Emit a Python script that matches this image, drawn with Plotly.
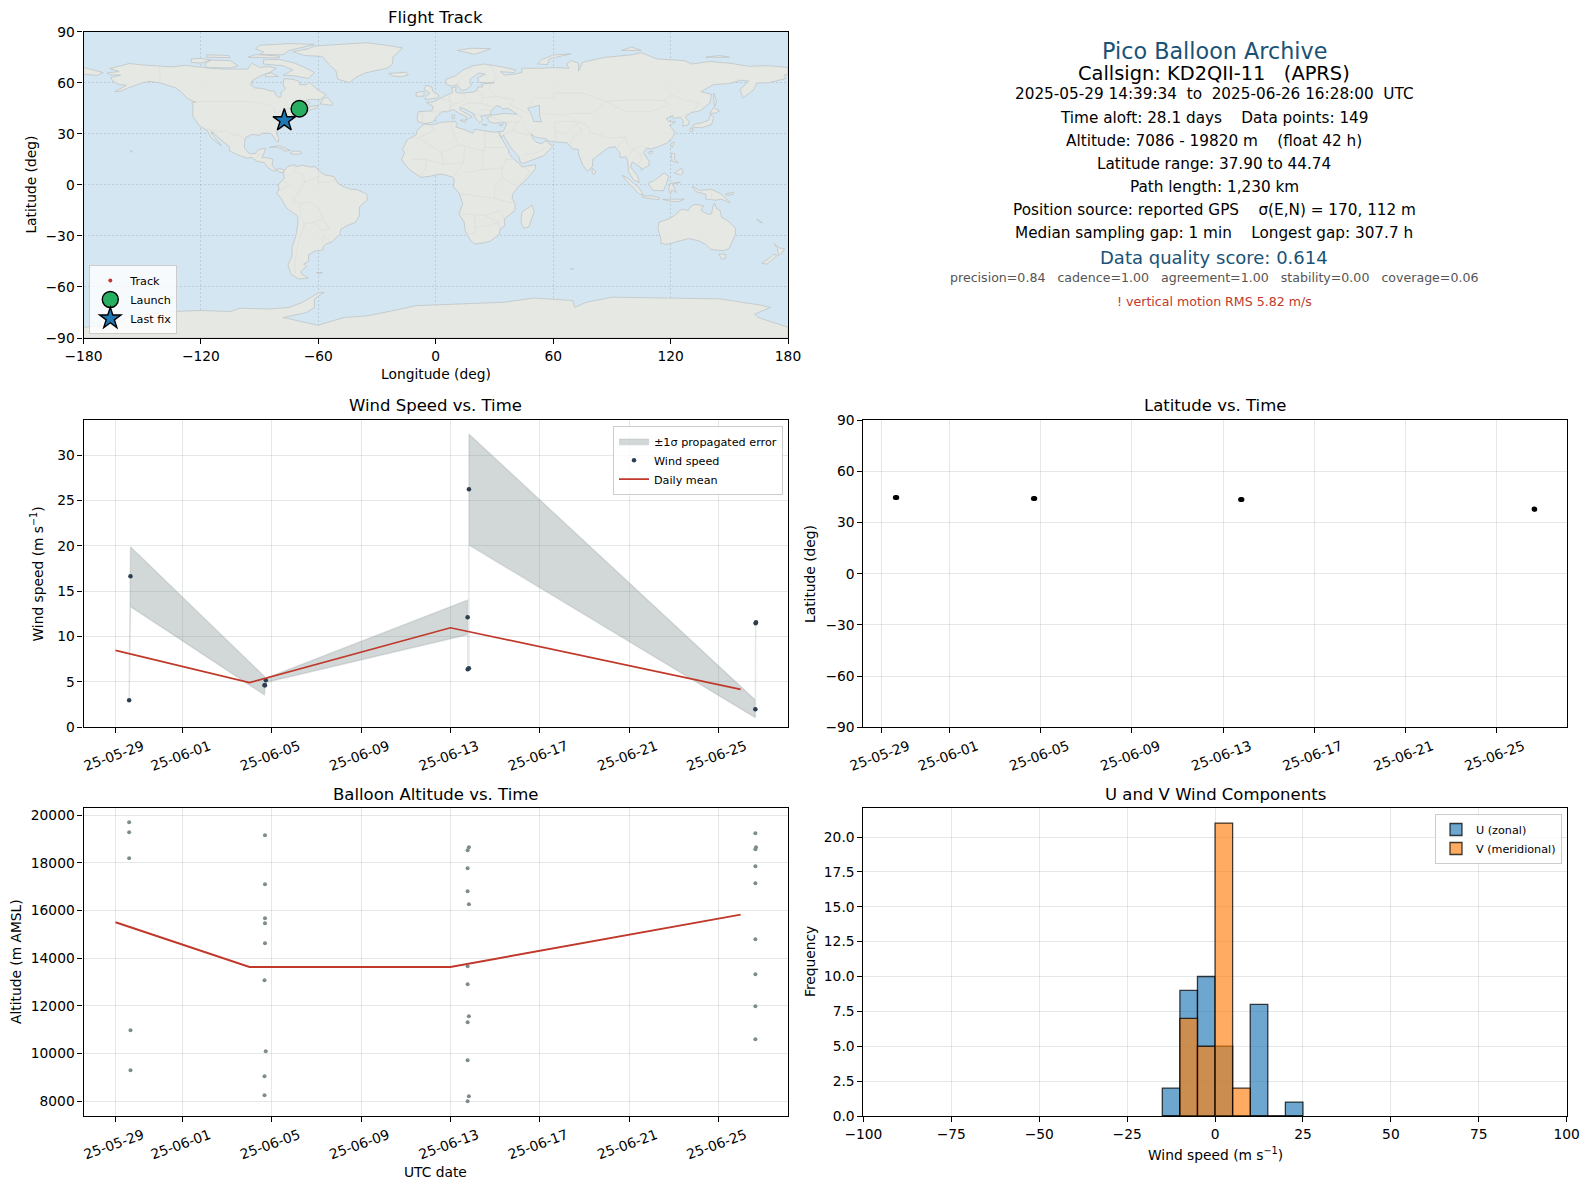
# flight summary figure for one pico balloon
import plotly.graph_objects as go

# page body keeps its default 8 px margin
W, H = 1573, 1173
OFF = 8

# wind speed samples, with +/- 1 sigma limits
wind_times = ["2025-05-29 14:39", "2025-05-29 16:05", "2025-06-04 16:10", "2025-06-04 16:40",
              "2025-06-04 17:30", "2025-06-13 18:30", "2025-06-13 18:35", "2025-06-13 19:50",
              "2025-06-13 19:55", "2025-06-26 15:50", "2025-06-26 16:05", "2025-06-26 16:28"]
wind_speed = [2.98, 16.65, 4.63, 4.63, 5.18, 12.13, 6.4, 6.5, 26.25, 1.98, 11.47, 11.58]
wind_hi = [3.15, 19.92, 5.6, 4.85, 5.4, 14.03, 6.6, 6.7, 32.35, 3.0, 11.6, 11.7]
wind_lo = [2.8, 13.3, 3.56, 4.4, 4.95, 10.2, 6.2, 6.3, 20.1, 1.06, 11.35, 11.45]

daily_days = ["2025-05-29", "2025-06-04", "2025-06-13", "2025-06-26"]
daily_wind = [8.49, 4.92, 10.98, 4.19]
daily_alt = [15510, 13636, 13636, 15832]

# altitude samples
alt_times = ["2025-05-29 14:39", "2025-05-29 14:39", "2025-05-29 14:39", "2025-05-29 16:05", "2025-05-29 16:05",
             "2025-06-04 16:40", "2025-06-04 16:40", "2025-06-04 16:40", "2025-06-04 16:40", "2025-06-04 16:40",
             "2025-06-04 16:10", "2025-06-04 17:30", "2025-06-04 16:10", "2025-06-04 16:10",
             "2025-06-13 19:50", "2025-06-13 18:30", "2025-06-13 18:30", "2025-06-13 18:30", "2025-06-13 19:50",
             "2025-06-13 18:30", "2025-06-13 18:30", "2025-06-13 19:50", "2025-06-13 18:30", "2025-06-13 18:30",
             "2025-06-13 19:50", "2025-06-13 18:30",
             "2025-06-26 15:50", "2025-06-26 16:28", "2025-06-26 15:50", "2025-06-26 15:50", "2025-06-26 15:50",
             "2025-06-26 15:50", "2025-06-26 15:50", "2025-06-26 15:50", "2025-06-26 15:50"]
alt_m = [19706, 19287, 18196, 10979, 9301,
         19161, 17105, 15678, 15469, 14629, 13077, 10098, 9049, 8252,
         18657, 18531, 17776, 16811, 16266, 13664, 12909, 11566, 11315, 9720, 8210, 8000,
         19245, 18657, 18573, 17860, 17147, 14797, 13329, 11986, 10601]

# latitude samples
lat_times = ["2025-05-29 14:39", "2025-05-29 16:05", "2025-06-04 16:10", "2025-06-04 17:30",
             "2025-06-13 18:30", "2025-06-13 19:50", "2025-06-26 15:50", "2025-06-26 16:28"]
lat_deg = [44.74, 44.7, 44.2, 44.15, 43.6, 43.5, 37.95, 37.9]

# track on the map
track_lon = [-69.7, -69.9, -70.3, -77.4]
track_lat = [44.74, 44.3, 43.5, 37.9]

# histogram of wind components, 5 m/s bins
bin_centers = [-12.5, -7.5, -2.5, 2.5, 7.5, 12.5, 17.5, 22.5]
u_counts = [2, 9, 10, 5, 0, 8, 0, 1]
v_counts = [0, 7, 5, 21, 2, 0, 0, 0]

date_ticks = ["2025-05-29", "2025-06-01", "2025-06-05", "2025-06-09",
              "2025-06-13", "2025-06-17", "2025-06-21", "2025-06-25"]
lon_ticks = [-180, -120, -60, 0, 60, 120, 180]
lat_ticks = [-90, -60, -30, 0, 30, 60, 90]
wind_ticks = [0, 5, 10, 15, 20, 25, 30]
alt_ticks = [8000, 10000, 12000, 14000, 16000, 18000, 20000]
hist_x_ticks = [-100, -75, -50, -25, 0, 25, 50, 75, 100]
hist_y_ticks = [0, 2.5, 5, 7.5, 10, 12.5, 15, 17.5, 20]

# rough coastlines (lon, lat)
north_america = [(-168, 65.7), (-162, 66.6), (-166.5, 68.4), (-160, 70.5), (-156.5, 71.3), (-150, 70.5), (-141, 69.7),
                 (-135, 69.3), (-128, 70.2), (-124, 69.6), (-115, 68.5), (-108, 68), (-100, 68), (-96, 68), (-94, 71.5),
                 (-90, 69), (-85, 69.5), (-81.5, 68.5), (-85, 66), (-87, 65), (-90, 63.8), (-94, 61), (-94.5, 58.8),
                 (-92.5, 57), (-88, 56.5), (-85, 55.3), (-82.3, 55.1), (-82, 53), (-80, 51.3), (-79, 52), (-79, 54.5),
                 (-76.8, 56.5), (-78, 58.8), (-77.5, 62.4), (-73, 62), (-70, 61), (-69.5, 58.8), (-66, 58.8), (-64.5, 60.3),
                 (-62, 57.5), (-60, 55.5), (-56, 53), (-59, 50.2), (-65, 50.2), (-68, 49), (-71, 46.8), (-65, 49),
                 (-64.5, 48), (-65, 47), (-64, 46), (-60, 46.8), (-61, 45.2), (-65.5, 43.5), (-66.3, 44.5), (-64.5, 45.5),
                 (-67, 45), (-70, 43.7), (-70.7, 42), (-74, 40.6), (-75.5, 38), (-76, 36.8), (-75.5, 35.2), (-78, 33.9),
                 (-81, 32), (-81.4, 30.5), (-80.2, 27), (-80.4, 25.2), (-81.7, 26), (-82.8, 28), (-84, 30), (-86, 30.4),
                 (-89, 30.3), (-90, 29.2), (-94, 29.6), (-97.2, 27.8), (-97.7, 25), (-97.8, 22), (-96, 19), (-94.5, 18.2),
                 (-92, 18.6), (-90.5, 20.8), (-87, 21.5), (-87.8, 18.5), (-88.8, 15.9), (-86, 15.9), (-83.3, 15),
                 (-83.6, 11.5), (-82, 9), (-79.5, 9.5), (-77.3, 8.6), (-77.9, 7.2), (-80, 7.3), (-80.5, 8.2), (-83, 8.2),
                 (-85.7, 10), (-87.6, 13), (-91.5, 14), (-94, 16.1), (-96.5, 15.7), (-101, 17.5), (-105.5, 20),
                 (-105.5, 22.5), (-109, 25.7), (-112.5, 29.5), (-114.7, 31.5), (-114.5, 30), (-111, 25), (-109.5, 23),
                 (-112, 25), (-115, 28), (-116.8, 32), (-120.5, 34.5), (-122.5, 37.5), (-124.3, 40.5), (-124, 46),
                 (-124.6, 48.4), (-122.5, 48.5), (-127, 50.8), (-130, 54.5), (-133, 57), (-137, 58.5), (-141, 60),
                 (-146, 60.8), (-150, 60), (-152, 59), (-156, 57.5), (-161, 55), (-164, 54.8), (-158, 58.5), (-162, 59),
                 (-165, 61), (-166, 63), (-161, 64.5), (-166, 64.6)]
chukotka_west = [(-180, 69), (-175, 67.5), (-170, 66), (-173, 64.3), (-180, 65)]
baffin = [(-62, 66), (-65, 62.5), (-72, 64), (-78, 64.5), (-73, 67.5), (-78, 70), (-88, 71), (-88, 73.5), (-80, 73.7), (-72, 71.5), (-67, 69)]
victoria = [(-117, 69), (-105, 68.7), (-101, 70), (-105, 73), (-115, 73.3), (-118, 71)]
ellesmere = [(-90, 76.5), (-78, 76.5), (-75, 79), (-65, 81.5), (-62, 82.5), (-75, 83), (-90, 82), (-92, 80), (-88, 78)]
banks = [(-125, 72), (-120, 71.5), (-115, 73.5), (-120, 74.3), (-125, 74)]
devon = [(-96, 75), (-80, 74.6), (-80, 75.7), (-92, 76.6)]
melville = [(-117, 75), (-105, 74.8), (-106, 76), (-117, 76.4)]
southampton = [(-87, 63.5), (-80.5, 63.7), (-84, 65.8), (-87, 65)]
newfoundland = [(-59, 47.6), (-53, 46.7), (-52.8, 48), (-55.5, 51.5), (-57.5, 50.5)]
greenland = [(-73, 78.3), (-67, 76), (-58, 75.5), (-54, 70), (-51, 67), (-50, 62), (-44, 60), (-41, 63), (-36, 65.8), (-25, 68.5),
             (-22, 71), (-22, 75), (-19, 78), (-17, 80.5), (-25, 82), (-35, 83.5), (-50, 82.5), (-62, 81.5), (-65, 80)]
iceland = [(-24, 65.5), (-22, 64), (-18, 63.4), (-14, 64.6), (-15, 66.2), (-20, 66)]
cuba = [(-85, 22), (-80, 23), (-74.2, 20.2), (-77.5, 19.9), (-78, 21), (-82, 22.3)]
hispaniola = [(-74.4, 18.5), (-73, 19.9), (-69, 19.7), (-68.4, 18.6), (-71.5, 17.8)]
hawaii = [(-156, 19.2), (-155, 19.7), (-155.7, 20.2)]
south_america = [(-77.3, 8.6), (-75.5, 10.8), (-72, 12), (-71.5, 10.8), (-68, 11.5), (-64, 10.5), (-61.5, 10.7), (-60, 8.5), (-57, 6),
                 (-52, 4.8), (-50, 1), (-48, -0.7), (-44, -2.5), (-40, -2.9), (-35.2, -5.5), (-35, -9), (-39, -13), (-39, -18),
                 (-41, -22), (-45, -23.8), (-48.5, -26), (-49, -29), (-53, -33.5), (-56.5, -35), (-57.5, -36.5), (-57.5, -38.2),
                 (-62, -39), (-65, -41), (-65, -45), (-67.5, -46.5), (-66, -48), (-69, -51), (-68.3, -52.5), (-65.2, -54.8),
                 (-70, -55.3), (-74, -52.5), (-75.5, -47), (-73.5, -42), (-73.5, -37), (-71.5, -30), (-70.5, -23), (-70.5, -18.3),
                 (-76, -14), (-79, -8), (-81.3, -5), (-80, -2.5), (-80.5, 0), (-78.5, 2.5), (-77.3, 4), (-77.9, 7.2)]
falklands = [(-61, -51.5), (-58, -51.5), (-59.5, -52.3)]
africa = [(-6, 35.8), (-2, 35.2), (3, 36.8), (10, 37.3), (11, 35.5), (10.2, 34), (15, 32.3), (19, 30.4), (20, 32.7), (25, 31.7),
          (29, 31), (32.3, 31.2), (32.5, 29.9), (34, 26.5), (37, 21), (37.5, 18.5), (39.5, 15.5), (43, 12), (44, 10.5), (51, 11.8),
          (51, 9.5), (47, 4), (42, -1.5), (39.5, -5), (39, -8), (40.5, -11), (40.5, -15), (35, -20), (35.3, -24), (32.8, -26),
          (32.5, -29), (28, -33), (25, -34), (20, -34.8), (18, -33), (15, -27), (14.5, -22), (11.8, -17), (13.8, -11), (12, -5),
          (9, -1), (9.5, 3.5), (8.5, 4.5), (5, 5.8), (2, 6.3), (-3, 5), (-7.5, 4.4), (-13, 8.5), (-15, 11), (-17.4, 14.7),
          (-16, 19), (-17, 21), (-14.5, 26.5), (-10, 29.5), (-9.5, 32)]
madagascar = [(44, -16), (49.2, -12), (50.3, -15.8), (47.5, -24.8), (45, -25.5), (43.5, -22)]
eurasia = [(-9, 37), (-9.5, 38.8), (-9, 43), (-2, 43.5), (-1.2, 46), (-4.7, 48.4), (-1.5, 48.7), (1.5, 50.5), (4, 52), (7, 53.5),
           (8.5, 54), (8.2, 57), (10.5, 57.5), (10, 54.8), (12, 54), (14.5, 54), (19, 54.5), (21, 55.5), (21.5, 57.5), (24, 57.5),
           (23.5, 59.2), (28, 59.6), (30, 60), (25, 60), (22, 60.3), (21.5, 63), (25.3, 65), (22, 65.8), (17.5, 62), (17.5, 59.8),
           (18.5, 59), (16, 56.2), (14, 55.4), (12.7, 56), (11, 59), (8, 58), (5.5, 59), (5, 62), (10, 64), (14, 67.5), (19, 70),
           (25, 71), (31, 70), (33, 69.5), (41, 67.5), (40, 66), (33, 66.5), (35, 64.5), (40, 65), (44, 66), (44, 68.5), (54, 68.5),
           (60, 69), (68, 68.5), (67, 71), (69, 73), (73, 71.5), (73, 67), (75, 72), (81, 73.5), (87, 75), (100, 76.4), (105, 77.7),
           (113, 74), (127, 73), (131, 71), (140, 72.5), (150, 71.5), (160, 69.7), (170, 70), (180, 69), (180, 65), (178, 64.5),
           (179, 62.5), (170, 60), (164, 59.8), (162.5, 56), (157, 51), (155.5, 56), (160, 61), (156, 61.5), (150, 59.5), (142, 59),
           (135.5, 54.8), (141, 53), (140, 48), (135, 43.5), (130.5, 42.5), (127.5, 39.8), (129.5, 37), (129, 35.2), (126.3, 34.5),
           (126.5, 37.5), (125, 39.6), (121.5, 39), (121, 40.8), (118, 39), (119, 37.2), (122.5, 37), (119.5, 35), (122, 31),
           (121.5, 28.5), (118, 24.5), (113.5, 22.3), (110, 21), (108, 21.6), (106, 19), (109, 14), (109, 11.5), (105, 8.7), (105, 10),
           (100.5, 13.5), (99.5, 10.5), (103, 5.5), (104, 1.4), (101, 3), (98.5, 8), (98, 14), (97, 16.5), (94.3, 16), (94, 19),
           (91.5, 22.5), (88, 21.7), (86, 20), (80.3, 15), (80, 10.5), (77.5, 8), (75, 12), (73, 18), (72.8, 21), (70, 21), (69, 22.5),
           (67, 24.8), (61.5, 25.2), (57, 25.8), (56.5, 27), (51, 28), (48.5, 30), (50, 26.7), (51.5, 25), (54, 24.2), (56.3, 26),
           (59.8, 22.5), (55, 17), (52, 15.8), (45, 12.8), (43.3, 13), (42.5, 16.5), (39, 21), (35, 28), (34.7, 29.5), (33.5, 28),
           (32.6, 30), (32.3, 31.2), (34.5, 31.5), (36, 35), (36, 36.7), (32, 36.2), (30, 36.3), (27.5, 37), (26.3, 39.5), (29, 41),
           (35, 42), (41.5, 41.5), (38, 44.5), (37, 45), (34, 44.5), (33, 46), (31, 46.5), (28, 43), (28.5, 41.5), (26, 40.7), (23, 40.5),
           (24, 38), (22.5, 36.5), (20, 39.7), (19.5, 41.8), (14, 45), (12.3, 45.4), (12.5, 44), (16, 41.7), (18.5, 40), (16.5, 39),
           (15.7, 38), (15.8, 40), (12, 42), (9, 44.3), (6, 43), (3, 43), (0, 39.5), (-0.5, 38), (-2, 36.8), (-5.5, 36)]
britain = [(-5.5, 50), (1.3, 51.2), (1.5, 52.8), (-1.5, 55), (-2, 57.5), (-5, 58.6), (-6, 56), (-3, 54), (-5, 52)]
ireland = [(-10, 52), (-6, 52.2), (-6, 55), (-10, 54.2)]
svalbard = [(11, 79), (20, 76.7), (28, 80), (18, 80.3)]
novaya = [(52, 71), (57, 70.7), (58, 74), (69, 77), (60, 76.3), (54, 73.5)]
severnaya = [(95, 79), (105, 79), (100, 81)]
new_siberia = [(138, 75), (150, 75), (145, 76)]
sicily = [(12.5, 38), (15.5, 38.2), (15, 36.7)]
sardinia = [(8.3, 41), (9.7, 41), (9.5, 39), (8.4, 39)]
crete = [(23.6, 35.5), (26.3, 35.3), (24.8, 34.9)]
cyprus = [(32.4, 35), (34.5, 35.6), (33.5, 34.7)]
sakhalin = [(142, 54), (143.5, 49), (142.5, 46), (142, 50)]
hokkaido = [(140, 42), (143, 42.2), (145, 43.5), (142, 45.4)]
honshu = [(131, 34), (136, 33.5), (141, 35.5), (142, 39.8), (140.5, 41.3), (139.5, 38), (136, 36.5), (132, 35.5)]
kyushu = [(130, 33.5), (131.5, 33), (131, 31), (130, 31.5)]
taiwan = [(121, 25), (122, 24.8), (120.8, 22), (120, 23.5)]
hainan = [(109, 19.5), (111, 19.7), (110, 18.2), (108.7, 18.8)]
luzon = [(120.5, 18.5), (122.2, 18.3), (122, 15), (124, 13), (120.7, 13.9)]
mindanao = [(122, 7), (125.5, 9.7), (126.5, 7), (125, 5.8)]
sumatra = [(95.3, 5.6), (98, 4), (104, -2), (106, -5.9), (104, -5.5), (100.5, -1.5), (97, 3)]
java = [(105.5, -6.5), (111, -6.5), (114.5, -7.7), (114, -8.7), (106, -7.5)]
borneo = [(109, 1.5), (111, 2), (116.8, 7), (119, 5), (118, 1), (116.3, -3.5), (111, -3.2), (109, 0)]
sulawesi = [(119.7, 0.8), (125, 1.5), (121, 0.4), (123, -4.5), (120.5, -3), (120, -5.5), (119, -3)]
sri_lanka = [(80, 9.7), (82, 7.5), (80.5, 6), (79.8, 8)]
new_guinea = [(131, -0.8), (135, -3.3), (141, -2.6), (146, -5.5), (150.5, -10.5), (146, -8.5), (143, -9), (138, -8.3), (138, -5.5), (133, -4)]
sunda = [(116, -8.5), (119, -8.4), (125, -8.5), (127, -8.4), (124, -10), (120, -9.6)]
new_britain = [(148, -5.5), (152, -4.2), (152, -5.5), (149, -6.2)]
new_caledonia = [(164, -20.2), (167, -22.3), (165.5, -21.8)]
australia = [(114, -22), (113.5, -26), (115, -31.5), (115, -34.3), (118, -35), (124, -33), (129, -31.6), (134, -32.7), (138, -35), (140.5, -38),
             (144, -38.5), (147, -38.7), (150, -37.3), (151.5, -33.5), (153.2, -29), (153, -25), (149, -21), (146, -19), (145.3, -15), (143.5, -14),
             (142.5, -10.8), (141.5, -13), (141, -17), (139, -17.3), (135.5, -15), (136.8, -12.2), (132.5, -11.5), (130, -13), (129, -15),
             (125.5, -14.3), (122, -18), (119, -20)]
tasmania = [(144.7, -40.7), (148.3, -40.9), (148, -43.2), (146, -43.6)]
nz_north = [(172.8, -34.5), (175.5, -37), (178.3, -37.7), (176.8, -40), (175, -41.6), (174.8, -39), (174.7, -37.5)]
nz_south = [(172.7, -40.6), (174.3, -41.7), (171, -45), (169, -46.6), (166.5, -46), (170.5, -43)]
kerguelen = [(69, -49), (70.5, -49.5), (69.5, -49.7)]
antarctica = [(-180, -83.7), (-165, -82.5), (-158, -78), (-150, -76.5), (-135, -74.5), (-120, -73.8), (-105, -74.5), (-100, -72.5), (-85, -73),
              (-75, -72), (-68, -69), (-60, -63.5), (-57, -63.2), (-62, -67), (-62, -72), (-66, -75), (-78, -78), (-60, -82.5), (-47, -78), (-35, -77),
              (-20, -73.5), (-10, -71), (12, -70), (35, -69), (50, -66.5), (70, -68), (71, -72), (77, -69), (90, -66), (120, -66.5), (145, -67),
              (165, -70.5), (171, -72), (163, -76), (165, -78), (180, -83.7), (180, -90), (-180, -90)]
caspian = [(47, 45), (53, 46.8), (53, 41), (54, 37), (50, 37.3), (49, 41)]

land_parts = [north_america, chukotka_west, baffin, victoria, ellesmere, banks, devon, melville, southampton, newfoundland, greenland, iceland,
              cuba, hispaniola, hawaii, south_america, falklands, africa, madagascar, eurasia, britain, ireland, svalbard, novaya,
              severnaya, new_siberia, sicily, sardinia, crete, cyprus, sakhalin, hokkaido, honshu, kyushu, taiwan, hainan, luzon,
              mindanao, sumatra, java, borneo, sulawesi, sri_lanka, new_guinea, sunda, new_britain, new_caledonia, australia,
              tasmania, nz_north, nz_south, kerguelen, antarctica]

# rough country borders
borders = [
    [(-141, 69.7), (-141, 60)], [(-123, 49), (-95, 49), (-89, 48), (-84, 46.5), (-82.5, 45), (-82.5, 42.5), (-79, 43), (-75, 45), (-71, 45), (-69, 47.3), (-67, 45)],
    [(-117, 32.5), (-114.7, 32.5), (-111, 31.3), (-106.5, 31.7), (-103, 29), (-101, 29.7), (-97.5, 26)], [(-92.2, 14.5), (-91, 17.5), (-89, 17.8), (-88.5, 18)],
    [(-72, 12), (-72.5, 7.5), (-67.5, 6), (-67, 1.5), (-70, -4.2), (-73, -9), (-69, -11), (-65, -10), (-60, -13.5), (-58, -18), (-58, -20), (-62, -22), (-67, -23), (-69, -18), (-69, -11)],
    [(-67, -23), (-70, -33), (-72, -45), (-72, -52)], [(-58, -20), (-54.5, -25.5), (-58, -27), (-62, -22)], [(-58, -34), (-57.5, -30), (-53.5, -33.7)],
    [(-60, 8.5), (-60, 1), (-52, 2.3), (-51.5, 4.3)], [(-67, 1.5), (-60, 5)], [(-78.5, 2.5), (-75, 0), (-80, -3.5)],
    [(-2, 35.2), (-1, 32), (-8.7, 27.5), (-13, 27.7)], [(-8.7, 27.5), (3, 19), (12, 23.5), (9.5, 30), (8, 33), (8.5, 37)], [(12, 23.5), (25, 20), (25, 31.7)],
    [(25, 22), (36.8, 22)], [(24, 20), (24, 9), (34, 10), (36, 15), (39, 15)], [(15, 23), (14, 13), (4, 12), (3, 19)], [(-12, 15), (-5, 15), (4, 12)], [(-5, 15), (-5, 10), (-8, 4.5)],
    [(14, 13), (9, 4.5)], [(15, 7), (24, 9)], [(34, 10), (34, 4), (42, -1)], [(34, 4), (30, -1), (30, -8), (40, -10.7)], [(12, -5), (30, -8)], [(12, -17), (25, -18), (33, -15), (35, -20)],
    [(20, -18), (20, -28), (17, -29)], [(25, -18), (32, -22), (32.5, -26)], [(20, -25), (27, -24), (32, -22)], [(42, -1), (48, 8), (43, 12)],
    [(-9, 42), (-6.5, 42), (-7, 37.2)], [(-2, 43.4), (3, 42.5)], [(2.5, 51), (8, 49), (7, 44)], [(7, 53.5), (7, 49)], [(14.3, 54), (15, 51), (13, 48.5), (9.5, 47.5), (7, 46)],
    [(13, 46.5), (16.5, 48), (23, 48), (24, 51), (23.5, 54), (21, 55.5)], [(28, 59.6), (27.5, 56), (31, 52), (24, 51)], [(23, 48), (29.5, 45.5)], [(31, 52), (40, 50), (38, 47)],
    [(19.5, 41.8), (22.5, 41), (26, 41.5), (28, 42)], [(22, 44), (29, 44)], [(25, 71), (29, 69), (31, 62), (28, 60)], [(19, 69), (12, 61), (11, 59)],
    [(26, 40.7), (36, 36.7), (42, 37), (44.5, 39.5), (41.5, 41.5)], [(44.5, 37), (46, 33), (48.5, 30)], [(61, 36.5), (61, 31.5), (61.5, 25.2)], [(35, 29.5), (39, 32), (42, 37)],
    [(39, 32), (47.5, 29), (48.5, 30)], [(45, 17.5), (52, 19), (56, 22)], [(38, 47), (47, 42)], [(47, 45), (50, 51), (60, 51), (61, 54), (75, 54), (87, 49), (98, 50), (108, 50), (117, 49.5), (120, 53), (127, 50), (135, 48), (131, 43)],
    [(87, 49), (97, 43), (110, 43), (119, 47), (117, 49.5)], [(53, 42), (66, 41), (70, 42), (80, 42), (87, 49)], [(61, 31.5), (66, 30), (70, 34), (74, 37), (66, 37.5), (61, 36.5)],
    [(74, 37), (78, 34), (79, 31), (88, 27.5), (97, 28), (98, 24), (101, 21), (105, 23), (108, 21.6)], [(74, 34), (74, 31), (70, 28), (69, 24)], [(97, 28), (94, 24), (92.5, 21)],
    [(101, 21), (105, 18), (105, 14), (102.5, 12)], [(101, 21), (98, 16), (99, 10.5)], [(141, -2.6), (141, -9)], [(124.5, 40), (130.5, 42.5)],
]


def xdom(a, b):
    return [(a - OFF) / W, (b - OFF) / W]


def ydom(top, bottom):
    return [1 - (bottom - OFF) / H, 1 - (top - OFF) / H]


def label(text, px, py, size=13.8, color="#000000", angle=0):
    return dict(text=text, x=(px - OFF) / W, y=1 - (py - OFF) / H, xref="paper", yref="paper",
                xanchor="center", yanchor="middle", showarrow=False, textangle=angle,
                font=dict(size=size, color=color))


GRID = "rgba(127,140,141,0.2)"
RED = "#c0392b"
DARK = "#2c3e50"
GREY = "#7f8c8d"
BAND = "rgba(127,140,141,0.35)"
OCEAN = "#d4e6f1"

axis_base = dict(showline=True, mirror=True, linecolor="black", linewidth=1.1, ticks="outside", ticklen=5,
                 tickwidth=1.1, tickcolor="black", showgrid=True, gridcolor=GRID, gridwidth=1.2, zeroline=False,
                 tickfont=dict(size=13.8, color="black"))
date_axis = dict(axis_base, type="date", tickvals=date_ticks, tickformat="%y-%m-%d", tickangle=-20, ticklabelshift=27)

fig = go.Figure()

# map panel, one trace per land piece so each one fills on its own
for part in land_parts:
    fig.add_trace(go.Scatter(x=[p[0] for p in part] + [part[0][0]], y=[p[1] for p in part] + [part[0][1]],
                             mode="lines", fill="toself", fillcolor="rgba(231,231,227,0.93)",
                             line=dict(color="#bcc0c0", width=0.7), hoverinfo="skip", showlegend=False,
                             xaxis="x", yaxis="y"))
fig.add_trace(go.Scatter(x=[p[0] for p in caspian] + [caspian[0][0]], y=[p[1] for p in caspian] + [caspian[0][1]],
                         mode="lines", fill="toself", fillcolor=OCEAN, line=dict(color="#bcc0c0", width=0.7),
                         hoverinfo="skip", showlegend=False, xaxis="x", yaxis="y"))
border_x, border_y = [], []
for line in borders:
    border_x += [p[0] for p in line] + [None]
    border_y += [p[1] for p in line] + [None]
fig.add_trace(go.Scatter(x=border_x, y=border_y, mode="lines", line=dict(color="#d9dbd8", width=0.6),
                         hoverinfo="skip", showlegend=False, xaxis="x", yaxis="y"))
fig.add_trace(go.Scatter(x=track_lon, y=track_lat, mode="markers", name="Track", legend="legend",
                         marker=dict(color=RED, size=4), xaxis="x", yaxis="y"))
fig.add_trace(go.Scatter(x=track_lon[:1], y=track_lat[:1], mode="markers", name="Launch", legend="legend",
                         marker=dict(color="#27ae60", size=16.5, line=dict(color="black", width=1.4)), xaxis="x", yaxis="y"))
fig.add_trace(go.Scatter(x=track_lon[-1:], y=track_lat[-1:], mode="markers", name="Last fix", legend="legend",
                         marker=dict(color="#1f77b4", size=17, symbol="star", line=dict(color="black", width=1.4)), xaxis="x", yaxis="y"))

# wind speed panel
fig.add_trace(go.Scatter(x=wind_times + wind_times[::-1], y=wind_hi + wind_lo[::-1], mode="lines", fill="toself",
                         fillcolor=BAND, line=dict(color="rgba(127,140,141,0.2)", width=1.5), name="±1σ propagated error",
                         legend="legend2", xaxis="x2", yaxis="y2"))
fig.add_trace(go.Scatter(x=wind_times, y=wind_speed, mode="markers", name="Wind speed", legend="legend2",
                         marker=dict(color=DARK, size=4.5), xaxis="x2", yaxis="y2"))
fig.add_trace(go.Scatter(x=daily_days, y=daily_wind, mode="lines", name="Daily mean", legend="legend2",
                         line=dict(color=RED, width=1.7), xaxis="x2", yaxis="y2"))

# latitude panel
fig.add_trace(go.Scatter(x=lat_times, y=lat_deg, mode="markers", marker=dict(color="black", size=5),
                         showlegend=False, xaxis="x3", yaxis="y3"))

# altitude panel
fig.add_trace(go.Scatter(x=alt_times, y=alt_m, mode="markers", marker=dict(color=GREY, size=4),
                         showlegend=False, xaxis="x4", yaxis="y4"))
fig.add_trace(go.Scatter(x=daily_days, y=daily_alt, mode="lines", line=dict(color=RED, width=2),
                         showlegend=False, xaxis="x4", yaxis="y4"))

# wind component histogram
fig.add_trace(go.Bar(x=bin_centers, y=u_counts, width=5, name="U (zonal)", legend="legend3",
                     marker=dict(color="rgba(31,119,180,0.65)", line=dict(color="rgba(0,0,0,0.75)", width=1.3)),
                     xaxis="x5", yaxis="y5"))
fig.add_trace(go.Bar(x=bin_centers, y=v_counts, width=5, name="V (meridional)", legend="legend3",
                     marker=dict(color="rgba(255,127,14,0.65)", line=dict(color="rgba(0,0,0,0.75)", width=1.3)),
                     xaxis="x5", yaxis="y5"))

wide_range = ["2025-05-27 13:35", "2025-06-28 02:53"]
lat_range = ["2025-05-28 04:57", "2025-06-28 02:10"]
legend_base = dict(bgcolor="rgba(255,255,255,0.8)", bordercolor="#cccccc", borderwidth=1, font=dict(size=11.2, color="black"),
                   tracegroupgap=0, itemsizing="trace", itemwidth=30)

map_grid = dict(griddash="2px,2px", gridcolor="rgba(110,120,125,0.22)", gridwidth=0.8)

fig.update_layout(
    width=W, height=H, margin=dict(l=0, r=0, t=0, b=0, autoexpand=False), barmode="overlay",
    paper_bgcolor="white", plot_bgcolor="white", font=dict(family="DejaVu Sans", color="black"),
    xaxis=dict(axis_base, domain=xdom(83.5, 788), range=[-180, 180], tickvals=lon_ticks, anchor="y", **map_grid),
    yaxis=dict(axis_base, domain=ydom(31.7, 338), range=[-90, 90], tickvals=lat_ticks, anchor="x", **map_grid),
    xaxis2=dict(date_axis, domain=xdom(83.5, 788), range=wide_range, anchor="y2"),
    yaxis2=dict(axis_base, domain=ydom(420.3, 727.3), range=[0, 33.86], tickvals=wind_ticks, anchor="x2"),
    xaxis3=dict(date_axis, domain=xdom(863.4, 1566.7), range=lat_range, anchor="y3"),
    yaxis3=dict(axis_base, domain=ydom(420.3, 727.3), range=[-90, 90], tickvals=lat_ticks, anchor="x3"),
    xaxis4=dict(date_axis, domain=xdom(83.5, 788), range=wide_range, anchor="y4"),
    yaxis4=dict(axis_base, domain=ydom(808, 1116), range=[7383, 20306], tickvals=alt_ticks, tickformat="d", anchor="x4"),
    xaxis5=dict(axis_base, domain=xdom(863.4, 1566.7), range=[-100, 100], tickvals=hist_x_ticks, anchor="y5"),
    yaxis5=dict(axis_base, domain=ydom(808, 1116), range=[0, 22.08], tickvals=hist_y_ticks, tickformat=".1f", anchor="x5"),
    legend=dict(legend_base, x=(89.3 - OFF) / W, y=1 - (334 - OFF) / H, xanchor="left", yanchor="bottom"),
    legend2=dict(legend_base, x=(783 - OFF) / W, y=1 - (425.7 - OFF) / H, xanchor="right", yanchor="top"),
    legend3=dict(legend_base, x=(1562 - OFF) / W, y=1 - (814 - OFF) / H, xanchor="right", yanchor="top"),
    annotations=[
        label("Flight Track", 435.7, 17.5, 16.5),
        label("Wind Speed vs. Time", 435.7, 405.5, 16.5),
        label("Latitude vs. Time", 1215, 405.5, 16.5),
        label("Balloon Altitude vs. Time", 435.7, 794.5, 16.5),
        label("U and V Wind Components", 1215, 794.5, 16.5),
        label("Longitude (deg)", 435.7, 374),
        label("UTC date", 435.7, 1171.5),
        label("Wind speed (m s<sup>−1</sup>)", 1215, 1154),
        label("Latitude (deg)", 30.6, 185, angle=-90),
        label("Wind speed (m s<sup>−1</sup>)", 37.5, 574, angle=-90),
        label("Latitude (deg)", 810, 574, angle=-90),
        label("Altitude (m AMSL)", 16, 962, angle=-90),
        label("Frequency", 810, 962, angle=-90),
        label("Pico Balloon Archive", 1214, 50.5, 22.3, "#1a5276"),
        label("Callsign: KD2QII-11   (APRS)", 1214, 73.8, 19.4),
        label("2025-05-29 14:39:34  to  2025-06-26 16:28:00  UTC", 1214, 94.5, 15.25),
        label("Time aloft: 28.1 days    Data points: 149", 1214, 117.8, 15.25),
        label("Altitude: 7086 - 19820 m    (float 42 h)", 1214, 140.8, 15.25),
        label("Latitude range: 37.90 to 44.74", 1214, 163.8, 15.25),
        label("Path length: 1,230 km", 1214, 186.8, 15.25),
        label("Position source: reported GPS    σ(E,N) = 170, 112 m", 1214, 209.8, 15.25),
        label("Median sampling gap: 1 min    Longest gap: 307.7 h", 1214, 232.8, 15.25),
        label("Data quality score: 0.614", 1214, 257, 18, "#1a5276"),
        label("precision=0.84   cadence=1.00   agreement=1.00   stability=0.00   coverage=0.06", 1214, 278, 12.6, "#555555"),
        label("! vertical motion RMS 5.82 m/s", 1214, 301, 12.6, "#c0392b"),
    ],
)
# ocean only behind the map panel
fig.add_shape(type="rect", xref="x domain", yref="y domain", x0=0, x1=1, y0=0, y1=1, layer="below",
              fillcolor=OCEAN, line=dict(width=0))

fig.write_html("out.html")
